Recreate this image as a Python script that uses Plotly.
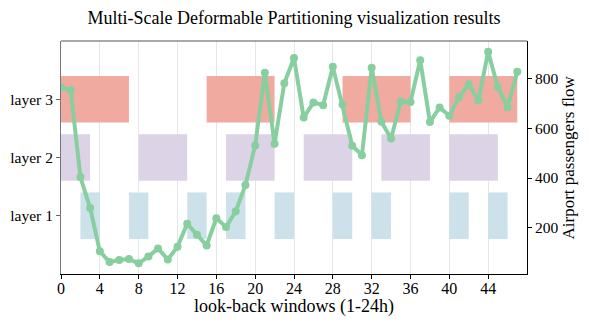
import plotly.graph_objects as go

# passengers flow for each look-back step (0..47)
steps = list(range(48))
flow = [765, 753, 404, 279, 105, 62, 70, 74, 57, 84,
        117, 72, 124, 216, 172, 129, 238, 203, 266, 372,
        531, 823, 538, 781, 883, 643, 704, 693, 847, 696,
        530, 492, 843, 626, 559, 708, 706, 874, 625, 684,
        650, 726, 777, 712, 908, 765, 685, 827]

# partition windows per layer as (start, end) in steps
layer3_windows = [(0, 7), (15, 22), (29, 36), (40, 47)]
layer2_windows = [(0, 3), (8, 13), (17, 22), (25, 30), (33, 38), (40, 45)]
layer1_windows = [(2, 4), (7, 9), (13, 15), (17, 19), (22, 24),
                  (28, 30), (32, 34), (40, 42), (44, 46)]

layer_names = ["layer 1", "layer 2", "layer 3"]
layer_colors = ["#cce1ea", "#dcd3e6", "#f0aaa0"]
x_ticks = list(range(0, 45, 4))
flow_ticks = [200, 400, 600, 800]

FONT = "Liberation Serif"
# the page body has an 8px margin, so the figure is shrunk by that much
OFF = 8
W, H = 589 - OFF, 327 - OFF
L, R, T, B = 61 - OFF, 62, 41 - OFF, 53
plot_w, plot_h = W - L - R, H - T - B

fig = go.Figure()

for level, (windows, color) in enumerate(
    zip([layer1_windows, layer2_windows, layer3_windows], layer_colors), start=1
):
    fig.add_trace(go.Bar(
        orientation="h",
        y=[level] * len(windows),
        base=[s for s, _ in windows],
        x=[e - s for s, e in windows],
        width=0.8,
        marker=dict(color=color, line=dict(width=0)),
        hoverinfo="skip",
        showlegend=False,
    ))

fig.add_trace(go.Scatter(
    x=steps,
    y=flow,
    yaxis="y2",
    mode="lines+markers",
    line=dict(color="#88cfa0", width=4),
    marker=dict(color="#88cfa0", size=8),
    showlegend=False,
))

fig.update_layout(
    width=W,
    height=H,
    margin=dict(l=L, r=R, t=T, b=B, autoexpand=False),
    plot_bgcolor="white",
    paper_bgcolor="white",
    barmode="overlay",
    font=dict(family=FONT, size=15, color="black"),
    title=dict(
        text="Multi-Scale Deformable Partitioning visualization results",
        x=0.5, xref="paper", xanchor="center",
        y=1 - (18 - OFF) / H, yref="container", yanchor="middle",
        font=dict(family=FONT, size=18, color="black"),
        automargin=False,
    ),
    xaxis=dict(
        range=[0, 48],
        tickvals=x_ticks,
        ticks="outside", ticklen=4, tickcolor="black",
        ticklabelstandoff=-4,
        showgrid=True, gridcolor="rgba(200,200,200,0.45)", gridwidth=1,
        zeroline=False,
        showline=True, linecolor="black", linewidth=1,
        tickfont=dict(size=16),
        automargin=False,
    ),
    yaxis=dict(
        range=[0, 4],
        tickvals=[1, 2, 3],
        ticktext=layer_names,
        ticks="outside", ticklen=4, tickcolor="#666",
        showgrid=False, zeroline=False,
        showline=True, linecolor="#777", linewidth=1,
        tickfont=dict(size=15.5),
        automargin=False,
    ),
    yaxis2=dict(
        overlaying="y",
        side="right",
        range=[14, 951],
        tickvals=flow_ticks,
        ticks="outside", ticklen=4, tickcolor="black",
        showgrid=False, zeroline=False,
        showline=True, linecolor="black", linewidth=1,
        tickfont=dict(size=15.5),
        automargin=False,
    ),
    shapes=[dict(
        type="line", xref="paper", yref="paper",
        x0=0, x1=1, y0=1, y1=1,
        line=dict(color="#555", width=1.2),
    )],
    annotations=[
        dict(
            text="look-back windows (1-24h)",
            xref="paper", yref="paper",
            x=0.5, y=-(306 - 274) / plot_h,
            xanchor="center", yanchor="middle",
            showarrow=False, font=dict(size=18),
        ),
        dict(
            text="Airport passengers flow",
            xref="paper", yref="paper",
            x=(568 - 61) / plot_w, y=0.5,
            xanchor="center", yanchor="middle", textangle=-90,
            showarrow=False, font=dict(size=17),
        ),
    ],
)

fig.write_html("out.html")
